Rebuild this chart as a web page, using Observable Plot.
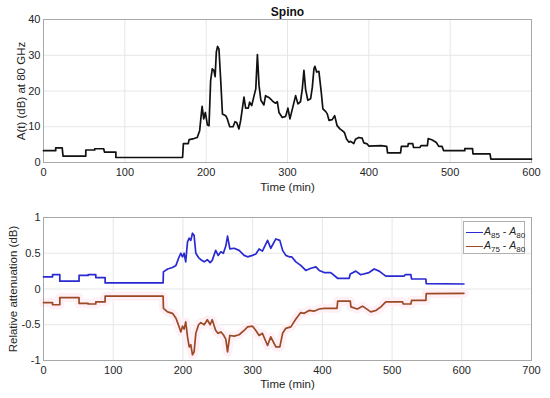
<!DOCTYPE html>
<html><head><meta charset="utf-8">
<script src="https://cdn.jsdelivr.net/npm/d3@7"></script>
<script src="https://cdn.jsdelivr.net/npm/@observablehq/plot@0.6"></script>
<style>
body{margin:0;background:#fff}
#wrap{position:relative;width:550px;height:398px;overflow:hidden}
#wrap svg{display:block}
#legend{position:absolute;left:463px;top:221px;width:62px;height:33px;box-sizing:border-box;border:1px solid #b0b0b0;background:#fff;font-family:'Liberation Sans',Arial,Helvetica,sans-serif;font-size:10.5px;color:#262626}
#legend .row{position:absolute;left:2px;height:14px;line-height:14px;white-space:nowrap}
#legend .sw{display:inline-block;width:17px;height:0;border-top:1.6px solid;vertical-align:middle;margin-right:1px}
#legend sub{font-size:8px;vertical-align:-3px;line-height:0}
</style>
</head><body><div id="wrap"></div>
<script>
// ---- Data ----
const topTime = [0,15,15,23,24,52,52,63,63,74,75,89,89,171,172,178,179,185,189,192,195,197,199,201.5,203.5,205.5,207.5,209.5,211,212.5,214,215.7,218,220,224,226,229,233,235.5,237.5,240.3,242.4,245,246.5,248.5,251.8,253.4,256,258.7,261,263,265,267.3,271,273,277,279,282.5,285.4,287.5,289.5,293.6,297.7,300.5,303,307,310,312.8,316,318.2,320.2,322.3,325,328.4,330.5,332.5,333.7,335.8,338.6,341.5,343.5,346.8,348.9,351,355,358,361,364.4,367.3,370,372.6,375.4,377.5,381.5,383.6,387.7,391.8,393.8,398,400,415,422,423,439,440,448,448.5,454,455,463,464,472,473,478,483,486,490,492,518,518,527.5,528,549,550,600];
const topAtt  = [3.3,3.3,4.1,4.1,1.8,1.8,3.5,3.5,3.85,3.85,2.9,2.9,1.4,1.4,5.3,5.3,6.4,6.7,7.0,8.9,15.7,12.2,14.0,10.5,10.3,22.9,26.2,25.8,24,30.9,32.5,31.8,22.5,13.6,13.1,12.2,10.0,10.0,11.4,11.2,9.4,11.7,15.9,18.3,15.2,15.2,16.9,15.9,18.5,20.6,30.2,21.5,17.4,16.1,18.7,18.2,17.8,17,16.6,17,14,12.6,12.9,15.2,12.2,15.9,18.7,16.4,17,20.6,25.8,20.4,17.4,17.8,21,26.2,26.9,25.3,25.5,19.7,15,14.3,13.6,11.8,12,13.1,10.3,9.4,8.9,8.4,6.6,5.7,5.9,5.3,6.5,7.0,6.8,5.5,5.2,4.6,4.7,4.5,2.7,2.7,4.5,4.5,5.3,5.3,4.2,4.2,4.7,4.7,6.7,6.3,5.6,4.5,4.5,3.3,3.3,3.9,3.9,2.4,2.4,0.95,0.95];

const blueTime = [0,13,13,23.4,23.4,51,51,64,64,75,75,88.4,88.4,171.6,172,178,185,190,194.6,197,199.4,201.7,204,206.6,209,211.3,213.7,216,218.5,222.4,225.7,230.5,235,239,242,247,250.5,254.4,258,261.5,264,267.3,273.5,280.6,287.8,292.7,299.8,304.6,309.3,314,321.4,326,333.3,339,343,347.6,352.4,356,362,369,376.3,383.5,390.7,395.5,402.6,412,421.8,438.5,440,448,455,467,474.3,481.5,491,517,519,527,528,548.5,549,603];
const blueVal  = [0.17,0.17,0.20,0.20,0.11,0.11,0.19,0.19,0.20,0.20,0.16,0.16,0.085,0.085,0.24,0.28,0.30,0.33,0.45,0.50,0.45,0.50,0.38,0.66,0.71,0.68,0.78,0.75,0.50,0.44,0.41,0.38,0.41,0.37,0.40,0.54,0.47,0.52,0.50,0.60,0.74,0.56,0.57,0.54,0.47,0.45,0.47,0.49,0.56,0.53,0.68,0.57,0.70,0.68,0.54,0.47,0.45,0.45,0.38,0.33,0.26,0.29,0.31,0.26,0.23,0.23,0.15,0.15,0.21,0.25,0.20,0.23,0.28,0.25,0.18,0.18,0.20,0.20,0.14,0.14,0.075,0.07];

const redTime = [0,13,13,23.4,23.4,51,51,64,64,75,75,88.4,88.4,171.6,172,178,185,190,194.6,197,199.4,201.7,204,206.6,209,211.3,213.7,216,218.5,222.4,225.7,230.5,235,239,242,247,250.5,254.4,258,261.5,264,267.3,273.5,280.6,287.8,292.7,299.8,304.6,309.3,314,321.4,326,333.3,339,343,347.6,354.8,362,369,374,381,388,395.5,402.6,421,422,440,441,450,457.6,469.5,476.7,484,491,515,516,527,528,548.5,549,603];
const redVal  = [-0.19,-0.19,-0.22,-0.22,-0.12,-0.12,-0.20,-0.20,-0.21,-0.21,-0.18,-0.18,-0.10,-0.10,-0.27,-0.32,-0.34,-0.41,-0.53,-0.60,-0.52,-0.56,-0.46,-0.67,-0.81,-0.78,-0.92,-0.88,-0.62,-0.50,-0.47,-0.50,-0.43,-0.50,-0.43,-0.58,-0.62,-0.60,-0.64,-0.70,-0.88,-0.65,-0.66,-0.64,-0.58,-0.53,-0.52,-0.58,-0.65,-0.62,-0.79,-0.67,-0.81,-0.81,-0.62,-0.55,-0.53,-0.42,-0.33,-0.34,-0.30,-0.31,-0.28,-0.27,-0.27,-0.17,-0.17,-0.25,-0.28,-0.24,-0.32,-0.30,-0.25,-0.18,-0.18,-0.21,-0.21,-0.16,-0.16,-0.065,-0.06];

const topXTicks = [0,100,200,300,400,500,600];
const topYTicks = [0,10,20,30,40];
const botXTicks = [0,100,200,300,400,500,600,700];
const botYTicks = [-1,-0.5,0,0.5,1];

const title = "Spino";
const xLabel = "Time (min)";
const topYLabel = "A(t) (dB) at 80 GHz";
const botYLabel = "Relative attenuation (dB)";

// ---- Tables ----
const topData = topTime.map((t, i) => ({t, a: topAtt[i]}));
const blueData = blueTime.map((t, i) => ({t, v: blueVal[i]}));
const redData = redTime.map((t, i) => ({t, v: redVal[i]}));

const fontFam = "'Liberation Sans', Arial, Helvetica, sans-serif";
const BLUE = "#2a2ad2";
const RED = "#9c4a26";
const GRID = "#e6e6e6";
const FRAME = "#a8a8a8";
const fmt = d => String(d);

const topPlot = Plot.plot({
  width: 550, height: 200,
  marginLeft: 43, marginRight: 19, marginTop: 19, marginBottom: 38,
  style: {fontFamily: fontFam, fontSize: "11px", color: "#262626", background: "white"},
  x: {domain: [0, 600]},
  y: {domain: [0, 40]},
  marks: [
    Plot.gridX(topXTicks, {stroke: GRID, strokeOpacity: 1}),
    Plot.gridY(topYTicks, {stroke: GRID, strokeOpacity: 1}),
    Plot.frame({stroke: FRAME}),
    Plot.line(topData, {x: "t", y: "a", stroke: "#111", strokeWidth: 1.7}),
    Plot.axisX(topXTicks, {tickSize: 0, tickPadding: 6, label: null, tickFormat: fmt}),
    Plot.axisY(topYTicks, {tickSize: 0, tickPadding: 3, label: null, tickFormat: fmt}),
    Plot.text([title], {text: d => d, frameAnchor: "top", lineAnchor: "middle", dy: -7, fontWeight: "bold", fontSize: 12, fill: "#111"}),
    Plot.text([xLabel], {text: d => d, frameAnchor: "bottom", lineAnchor: "middle", dy: 25, fontSize: 11.5}),
    Plot.text([topYLabel], {text: d => d, frameAnchor: "left", textAnchor: "middle", lineAnchor: "middle", dx: -22, rotate: -90, fontSize: 11.5})
  ]
});

const botPlot = Plot.plot({
  width: 550, height: 198,
  marginLeft: 43, marginRight: 19, marginTop: 17, marginBottom: 38,
  style: {fontFamily: fontFam, fontSize: "11px", color: "#262626", background: "white"},
  x: {domain: [0, 700]},
  y: {domain: [-1, 1]},
  marks: [
    Plot.gridX(botXTicks, {stroke: GRID, strokeOpacity: 1}),
    Plot.gridY(botYTicks, {stroke: GRID, strokeOpacity: 1}),
    Plot.line(redData, {x: "t", y: "v", stroke: "#fff0f6", strokeWidth: 9}),
    Plot.frame({stroke: FRAME}),
    Plot.line(blueData, {x: "t", y: "v", stroke: BLUE, strokeWidth: 1.7}),
    Plot.line(redData, {x: "t", y: "v", stroke: RED, strokeWidth: 1.7}),
    Plot.axisX(botXTicks, {tickSize: 0, tickPadding: 6, label: null, tickFormat: fmt}),
    Plot.axisY(botYTicks, {tickSize: 0, tickPadding: 3, label: null, tickFormat: fmt}),
    Plot.text([xLabel], {text: d => d, frameAnchor: "bottom", lineAnchor: "middle", dy: 24, fontSize: 11.5}),
    Plot.text([botYLabel], {text: d => d, frameAnchor: "left", textAnchor: "middle", lineAnchor: "middle", dx: -30, rotate: -90, fontSize: 11.5})
  ]
});

const wrap = document.getElementById("wrap");
wrap.appendChild(topPlot);
wrap.appendChild(botPlot);

const legendItems = [
  {color: BLUE, a: "85", b: "80"},
  {color: RED, a: "75", b: "80"}
];
const legend = document.createElement("div");
legend.id = "legend";
legendItems.forEach((it, i) => {
  const row = document.createElement("div");
  row.className = "row";
  row.style.top = (2 + i * 14) + "px";
  row.innerHTML = `<span class="sw" style="border-top-color:${it.color}"></span><i>A</i><sub>${it.a}</sub> - <i>A</i><sub>${it.b}</sub>`;
  legend.appendChild(row);
});
wrap.appendChild(legend);
</script>
</body></html>
